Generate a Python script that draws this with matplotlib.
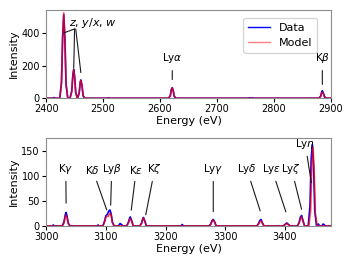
import matplotlib
matplotlib.use('Agg')
import matplotlib.pyplot as plt
from matplotlib.lines import Line2D

# ---- upper panel (He-like lines, Ly-alpha, K-beta) ----
top_data_e = [2400, 2412, 2414, 2416, 2424, 2427, 2429, 2431, 2433, 2435, 2438,
              2442, 2445, 2447, 2448.5, 2450, 2452, 2455, 2458, 2460, 2461, 2463, 2465, 2468,
              2508, 2510, 2512, 2615, 2618, 2620, 2621.5, 2623, 2625, 2628,
              2755, 2757, 2759, 2762, 2764, 2879, 2882, 2884, 2885, 2887, 2889, 2892, 2900]
top_data_i = [0, 0, 4, 0, 0, 95, 370, 515, 360, 85, 0,
              0, 45, 145, 178, 135, 35, 0, 30, 100, 113, 80, 15, 0,
              0, 3, 0, 0, 15, 55, 65, 50, 12, 0,
              0, 3, 0, 3, 0, 0, 12, 40, 46, 30, 8, 0, 0]

top_model_e = [2400, 2424, 2427, 2429, 2431, 2433, 2435, 2438,
               2442, 2445, 2447, 2448.5, 2450, 2452, 2455, 2458, 2460, 2461, 2463, 2465, 2468,
               2615, 2618, 2620, 2621.5, 2623, 2625, 2628,
               2879, 2882, 2884, 2885, 2887, 2889, 2892, 2900]
top_model_i = [0, 0, 100, 385, 527, 375, 90, 0,
               0, 40, 140, 175, 130, 32, 0, 28, 98, 110, 78, 14, 0,
               0, 14, 54, 63, 48, 11, 0,
               0, 10, 33, 38, 25, 6, 0, 0]

# ---- lower panel (higher-n lines) ----
bot_data_e = [3000, 3010, 3012, 3014, 3027, 3030, 3032, 3033.5, 3035, 3037, 3040,
              3085, 3087, 3089, 3095, 3098, 3100, 3101.5, 3103, 3105, 3107, 3109, 3111, 3114,
              3121, 3124, 3126, 3129, 3135, 3138, 3140, 3141, 3143, 3146,
              3157, 3160, 3162, 3163, 3165, 3168, 3226, 3228, 3230,
              3273, 3276, 3278, 3280, 3282, 3285, 3353, 3356, 3358, 3360, 3362, 3365,
              3397, 3400, 3403, 3406, 3409, 3421, 3424, 3426, 3428, 3430, 3433,
              3439, 3442, 3444, 3446, 3448, 3450, 3453, 3456, 3458, 3462, 3464, 3466, 3468, 3477]
bot_data_i = [0, 0, 2, 0, 0, 8, 22, 27, 20, 6, 0,
              0, 2, 0, 0, 10, 20, 22, 24, 30, 32, 24, 8, 0,
              0, 5, 3, 0, 0, 8, 16, 18, 12, 0,
              0, 6, 15, 17, 11, 0, 0, 3, 0,
              0, 4, 11, 13, 9, 0, 0, 5, 11, 13, 7, 0,
              0, 3, 6, 3, 0, 0, 8, 18, 21, 12, 0,
              0, 40, 135, 163, 120, 30, 0, 4, 0, 0, 4, 2, 0, 0]

bot_model_e = [3000, 3027, 3030, 3032, 3033.5, 3035, 3037, 3040,
               3095, 3098, 3100, 3102, 3104, 3107, 3109, 3111, 3114,
               3135, 3138, 3140, 3141, 3143, 3146, 3157, 3160, 3162, 3163, 3165, 3168,
               3273, 3276, 3278, 3280, 3282, 3285, 3353, 3356, 3358, 3360, 3362, 3365,
               3397, 3400, 3403, 3406, 3409, 3421, 3424, 3426, 3428, 3430, 3433,
               3440, 3443, 3445, 3447, 3449, 3451, 3454, 3477]
bot_model_i = [0, 0, 6, 18, 22, 17, 5, 0,
               0, 8, 17, 20, 19, 26, 20, 6, 0,
               0, 6, 13, 15, 10, 0, 0, 5, 14, 16, 10, 0,
               0, 3, 10, 12, 8, 0, 0, 4, 9, 10, 6, 0,
               0, 2, 5, 2, 0, 0, 6, 15, 18, 10, 0,
               0, 30, 120, 157, 110, 25, 0, 0]

# ---- line labels: (text, peak x, peak y, text x, text y) ----
top_labels = [(r'Ly$\alpha$', 2621.5, 98, 2621.5, 205),
              (r'K$\beta$', 2885, 68, 2885, 205)]
zyxw_peaks_x = [2432, 2448.5, 2461]
zyxw_peaks_y = [405, 185, 158]
bot_labels = [(r'K$\gamma$', 3033.5, 40, 3033, 100),
              (r'K$\delta$', 3103, 27, 3078, 100),
              (r'Ly$\beta$', 3108, 36, 3110, 100),
              (r'K$\varepsilon$', 3142, 26, 3151, 100),
              (r'K$\zeta$', 3166, 17, 3182, 100),
              (r'Ly$\gamma$', 3280, 23, 3280, 100),
              (r'Ly$\delta$', 3360, 25, 3336, 100),
              (r'Ly$\varepsilon$', 3403, 23, 3378, 100),
              (r'Ly$\zeta$', 3429, 28, 3411, 100),
              (r'Ly$\eta$', 3445, 81, 3434, 150)]

fig = plt.figure(figsize=(3.52, 2.64), dpi=100)
ax1 = fig.add_axes([0.131, 0.628, 0.809, 0.334])
ax2 = fig.add_axes([0.131, 0.144, 0.809, 0.334])

line_kw = dict(arrowstyle='-', color='0.1', lw=0.8)
lab_fs = 7.5

ax1.plot(top_data_e, top_data_i, color='blue', lw=1.2)
ax1.plot(top_model_e, top_model_i, color='red', lw=1.2, alpha=0.72)
ax1.set_xlim(2400, 2900)
ax1.set_ylim(0, 545)
ax1.set_yticks([0, 200, 400])
ax1.set_xlabel('Energy (eV)', fontsize=8, labelpad=1)
ax1.set_ylabel('Intensity', fontsize=8, labelpad=2)
handles = [Line2D([], [], color='blue', lw=1.0),
           Line2D([], [], color='red', lw=1.0, alpha=0.5)]
ax1.legend(handles, ['Data', 'Model'], loc='upper right', fontsize=8,
           handlelength=2.0, borderpad=0.4, bbox_to_anchor=(0.97, 0.97))
for txt, px, py, tx, ty in top_labels:
    ax1.annotate(txt, xy=(px, py), xytext=(tx, ty), ha='center', va='bottom',
                 fontsize=lab_fs, arrowprops=line_kw)
ax1.text(2441, 462, r'$z$, $y/x$, $w$', fontsize=8, va='center', ha='left')
for px, py in zip(zyxw_peaks_x, zyxw_peaks_y):
    ax1.annotate('', xy=(px, py), xytext=(2450 + (px > 2450) * 2, 428),
                 arrowprops=dict(line_kw, shrinkA=0, shrinkB=0))

ax2.plot(bot_data_e, bot_data_i, color='blue', lw=1.2)
ax2.plot(bot_model_e, bot_model_i, color='red', lw=1.2, alpha=0.72)
ax2.set_xlim(3000, 3477)
ax2.set_ylim(0, 176)
ax2.set_yticks([0, 50, 100, 150])
ax2.set_xticks([3000, 3100, 3200, 3300, 3400])
ax2.set_xlabel('Energy (eV)', fontsize=8, labelpad=1)
ax2.set_ylabel('Intensity', fontsize=8, labelpad=2)
for txt, px, py, tx, ty in bot_labels:
    ax2.annotate(txt, xy=(px, py), xytext=(tx, ty), ha='center', va='bottom',
                 fontsize=lab_fs, arrowprops=line_kw)

for ax in (ax1, ax2):
    ax.tick_params(labelsize=7, length=3, width=0.8, pad=1.5)
    for s in ax.spines.values():
        s.set_color('0.55')

fig.savefig('out.png', dpi=100)
